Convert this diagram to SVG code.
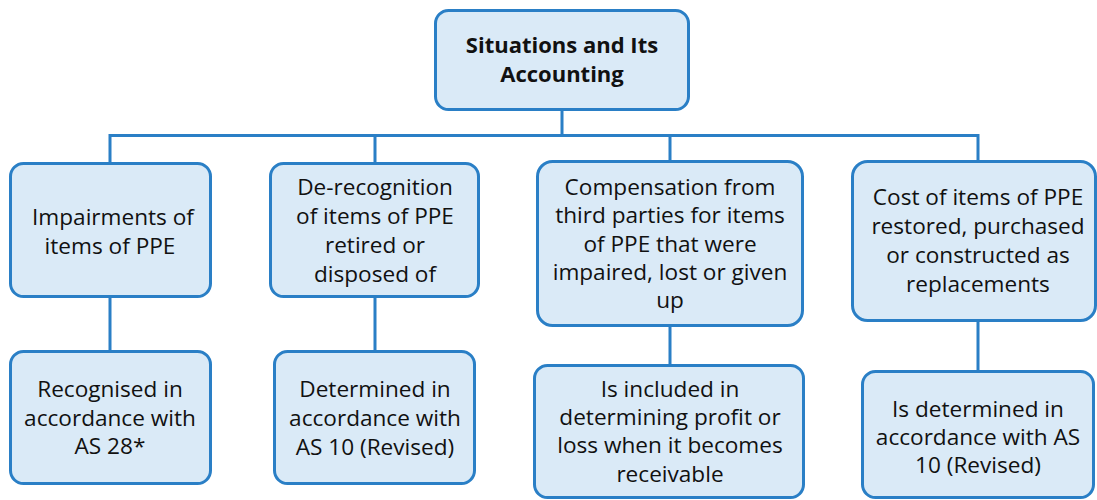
<svg xmlns="http://www.w3.org/2000/svg" width="1097" height="500" viewBox="0 0 1097 500">
<style>
.box{fill:#daeaf7;stroke:#2a7fc6;stroke-width:3}
.ln{fill:none;stroke:#2a7fc6;stroke-width:3}
text{font-family:"Open Sans","Noto Sans","DejaVu Sans",sans-serif;font-size:22.6px;fill:#111;text-anchor:middle}
.t{font-weight:bold;font-size:22px}
</style>
<rect width="1097" height="500" fill="#fff"/>
<g id="connectors">
<path class="ln" d="M562 110V135.5M110 163V135.5H978V162M375 135.5V163M670 135.5V161"/>
<path class="ln" d="M110 297V351M375 297V351M670 326V365M978 321V371"/>
</g>
<g id="root">
<rect class="box" x="435.5" y="10.5" width="253" height="99" rx="13"/>
<text class="t" x="562" y="53">Situations and Its</text>
<text class="t" x="562" y="82">Accounting</text>
</g>
<g id="n1">
<rect class="box" x="10.5" y="163.5" width="200" height="133" rx="13"/>
<text x="113" y="225">Impairments of</text>
<text x="110" y="254">items of PPE</text>
</g>
<g id="n2">
<rect class="box" x="270.5" y="163.5" width="208" height="133" rx="13"/>
<text x="375" y="195">De-recognition</text>
<text x="375" y="224">of items of PPE</text>
<text x="375" y="253">retired or</text>
<text x="375" y="282">disposed of</text>
</g>
<g id="n3">
<rect class="box" x="537.5" y="161.5" width="265" height="164" rx="15"/>
<text x="670" y="195">Compensation from</text>
<text x="670" y="223">third parties for items</text>
<text x="670" y="252">of PPE that were</text>
<text x="670" y="280">impaired, lost or given</text>
<text x="670" y="308">up</text>
</g>
<g id="n4">
<rect class="box" x="852.5" y="161.5" width="243" height="159" rx="15"/>
<text x="978" y="205">Cost of items of PPE</text>
<text x="978" y="234">restored, purchased</text>
<text x="978" y="263">or constructed as</text>
<text x="978" y="292">replacements</text>
</g>
<g id="b1">
<rect class="box" x="10.5" y="351.5" width="200" height="132" rx="13"/>
<text x="110" y="397">Recognised in</text>
<text x="110" y="426">accordance with</text>
<text x="110" y="454">AS 28*</text>
</g>
<g id="b2">
<rect class="box" x="274.5" y="351.5" width="200" height="132" rx="13"/>
<text x="375" y="397">Determined in</text>
<text x="375" y="426">accordance with</text>
<text x="375" y="455">AS 10 (Revised)</text>
</g>
<g id="b3">
<rect class="box" x="534.5" y="365.5" width="269" height="132" rx="13"/>
<text x="670" y="397">Is included in</text>
<text x="670" y="425">determining profit or</text>
<text x="670" y="453">loss when it becomes</text>
<text x="670" y="482">receivable</text>
</g>
<g id="b4">
<rect class="box" x="862.5" y="371.5" width="231" height="126" rx="13"/>
<text x="978" y="417">Is determined in</text>
<text x="978" y="445">accordance with AS</text>
<text x="978" y="473">10 (Revised)</text>
</g>
</svg>
